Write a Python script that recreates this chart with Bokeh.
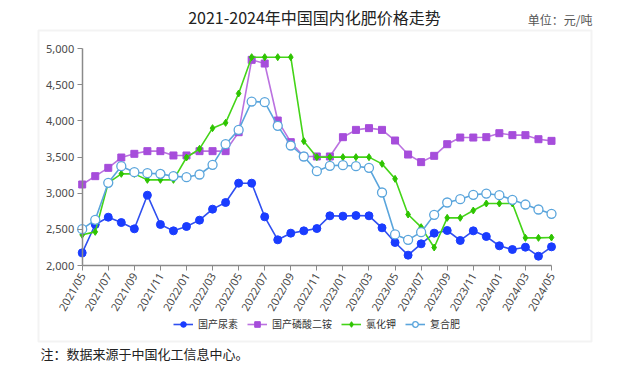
import math
from bokeh.plotting import figure
from bokeh.models import (Range1d, FixedTicker, NumeralTickFormatter, Label, Legend,
                          LegendItem, BoxAnnotation, ColumnDataSource)
from bokeh.embed import file_html
from bokeh.resources import INLINE

months = ["2021/05", "2021/06", "2021/07", "2021/08", "2021/09", "2021/10", "2021/11", "2021/12",
          "2022/01", "2022/02", "2022/03", "2022/04", "2022/05", "2022/06", "2022/07", "2022/08",
          "2022/09", "2022/10", "2022/11", "2022/12",
          "2023/01", "2023/02", "2023/03", "2023/04", "2023/05", "2023/06", "2023/07", "2023/08",
          "2023/09", "2023/10", "2023/11", "2023/12",
          "2024/01", "2024/02", "2024/03", "2024/04", "2024/05"]

urea = [2175, 2567, 2668, 2594, 2507, 2972, 2567, 2479,
        2539, 2627, 2779, 2871, 3138, 3138, 2673, 2355, 2447, 2479, 2511, 2687,
        2682, 2691, 2687, 2521, 2318, 2143, 2300, 2447, 2484, 2346, 2479, 2401,
        2272, 2221, 2253, 2129, 2258]
dap = [3120, 3235, 3350, 3493, 3544, 3581, 3581, 3521,
       3521, 3581, 3581, 3581, 3843, 4843, 4792, 4004, 3705, 3507, 3507, 3507,
       3774, 3875, 3899, 3875, 3728, 3534, 3429, 3516, 3677, 3769, 3769, 3774,
       3829, 3802, 3802, 3746, 3723]
potash = [2424, 2465, 3143, 3267, 3267, 3184, 3184, 3184,
          3493, 3613, 3899, 3972, 4378, 4880, 4880, 4880, 4880, 3719, 3498, 3498,
          3498, 3498, 3498, 3405, 3198, 2705, 2530, 2249, 2659, 2659, 2760, 2857,
          2857, 2857, 2382, 2382, 2387]
compound = [2502, 2631, 3143, 3373, 3290, 3276, 3267, 3235,
            3221, 3258, 3392, 3677, 3875, 4267, 4258, 3931, 3659, 3507, 3304, 3378,
            3387, 3373, 3350, 3009, 2429, 2355, 2461, 2700, 2871, 2917, 2977, 2995,
            2972, 2908, 2843, 2774, 2714]

series_names = ["国产尿素", "国产磷酸二铵", "氯化钾", "复合肥"]
y_ticks = [2000, 2500, 3000, 3500, 4000, 4500, 5000]
title_text = "2021-2024年中国国内化肥价格走势"
unit_text = "单位：元/吨"
note_text = "注：数据来源于中国化工信息中心。"

CJK = "Noto Sans CJK SC"

# ---- layout (pixels in the canvas) ----
W, H = 624, 363
PX0, PX1 = 81.7, 551.0      # pixel x of first / last month
PY_TOP, PY_BOT = 48.0, 265.0  # pixel y of y_ticks[-1] / y_ticks[0]

n = len(months)
x = list(range(n))
ppx = (PX1 - PX0) / (n - 1)
ymin, ymax = y_ticks[0], y_ticks[-1]
ppy = (PY_BOT - PY_TOP) / (ymax - ymin)
x_range = Range1d(0 - PX0 / ppx, (n - 1) + (W - PX1) / ppx)
y_range = Range1d(ymin - (H - PY_BOT) / ppy, ymax + PY_TOP / ppy)

src = ColumnDataSource(dict(x=x, urea=urea, dap=dap, potash=potash, compound=compound))

p = figure(width=W, height=H, output_backend="svg", toolbar_location=None,
           x_range=x_range, y_range=y_range,
           min_border=0, min_border_left=0, min_border_right=0,
           min_border_top=0, min_border_bottom=0)
p.title.visible = False
p.outline_line_color = None
p.grid.visible = False
p.background_fill_color = "white"
p.border_fill_color = "white"

# axes
p.xaxis.ticker = FixedTicker(ticks=list(range(0, n, 2)))
p.xaxis.major_label_overrides = {i: months[i] for i in range(0, n, 2)}
p.xaxis.major_label_orientation = math.pi / 3
p.xaxis.bounds = (0, n - 1)
p.xaxis.fixed_location = ymin
p.yaxis.ticker = FixedTicker(ticks=y_ticks)
p.yaxis.formatter = NumeralTickFormatter(format="0,0")
p.yaxis.bounds = (ymin, ymax)
p.yaxis.fixed_location = 0
for ax in (p.xaxis, p.yaxis):
    ax.axis_line_color = "#8a8a8a"
    ax.axis_line_width = 1.5
    ax.major_tick_line_color = "#8a8a8a"
    ax.major_tick_line_width = 1
    ax.major_tick_in = 0
    ax.major_tick_out = 5
    ax.minor_tick_line_color = None
    ax.major_label_text_font = "Noto Sans"
    ax.major_label_text_font_size = "11px"
    ax.major_label_text_color = "#4a4a4a"
    ax.major_label_standoff = 3

# series
r1l = p.line("x", "urea", source=src, line_color="#2f4ff0", line_width=1.6)
r1s = p.scatter("x", "urea", source=src, marker="circle", size=8, fill_color="#1a3cff",
                line_color="#1a3cff")
r2l = p.line("x", "dap", source=src, line_color="#bb72e0", line_width=1.6)
r2s = p.scatter("x", "dap", source=src, marker="square", size=7, fill_color="#a64ddb",
                line_color="#a64ddb")
r3l = p.line("x", "potash", source=src, line_color="#44d418", line_width=1.6)
r3s = p.scatter("x", "potash", source=src, marker="diamond", size=7, fill_color="#2ec400",
                line_color="#2ec400")
r4l = p.line("x", "compound", source=src, line_color="#5aa5dc", line_width=1.6)
r4s = p.scatter("x", "compound", source=src, marker="circle", size=9, fill_color="white",
                line_color="#5aa5dc", line_width=1.3)

legend = Legend(items=[LegendItem(label=series_names[0], renderers=[r1l, r1s]),
                       LegendItem(label=series_names[1], renderers=[r2l, r2s]),
                       LegendItem(label=series_names[2], renderers=[r3l, r3s]),
                       LegendItem(label=series_names[3], renderers=[r4l, r4s])],
                orientation="horizontal", location=(173, H - 331), padding=0, margin=0,
                spacing=9, label_standoff=5, glyph_width=20, glyph_height=14,
                label_text_font=CJK, label_text_font_size="10px", label_text_color="#333333",
                border_line_color=None, background_fill_alpha=0)
p.add_layout(legend)

# outer box
box = BoxAnnotation(left=38, right=591, top=H - 30, bottom=H - 341,
                    left_units="screen", right_units="screen", top_units="screen",
                    bottom_units="screen", fill_alpha=0, line_color="#d6d6d6", line_width=2)
p.add_layout(box)

p.add_layout(Label(x=314, y=H - 16, x_units="screen", y_units="screen", text=title_text,
                   text_font=CJK, text_font_size="16px", text_color="#222222",
                   text_align="center", text_baseline="middle"))
p.add_layout(Label(x=592, y=H - 19, x_units="screen", y_units="screen", text=unit_text,
                   text_font=CJK, text_font_size="12px", text_color="#555555",
                   text_align="right", text_baseline="middle"))
p.add_layout(Label(x=40, y=H - 353, x_units="screen", y_units="screen", text=note_text,
                   text_font=CJK, text_font_size="13px", text_color="#222222",
                   text_align="left", text_baseline="middle"))

open("out.html", "w").write(file_html(p, INLINE))
